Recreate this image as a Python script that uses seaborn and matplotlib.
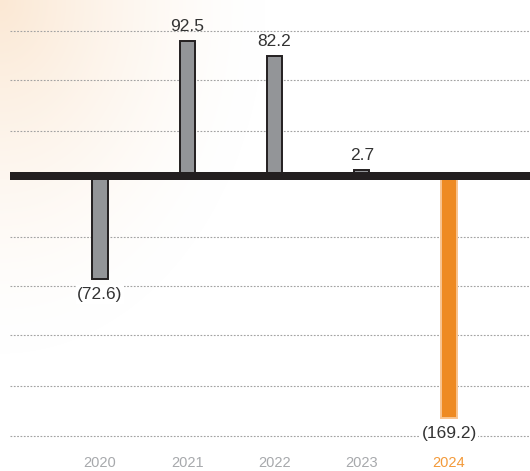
import numpy as np
import pandas as pd
import matplotlib
matplotlib.use("Agg")
import matplotlib.pyplot as plt
import matplotlib.transforms as mtransforms
import seaborn as sns

# ---- data ----
years = ["2020", "2021", "2022", "2023", "2024"]
values = [-72.6, 92.5, 82.2, 2.7, -169.2]
labels = ["(72.6)", "92.5", "82.2", "2.7", "(169.2)"]
grid_levels = [99, 65, 30, -44, -78, -112, -147, -182]

# ---- style ----
fill_colors = ["#939598", "#939598", "#939598", "#939598", "#ee8a22"]
edge_colors = ["#231f20", "#231f20", "#231f20", "#231f20", "#f9c48f"]
year_colors = ["#a7a9ac", "#a7a9ac", "#a7a9ac", "#a7a9ac", "#f39a3a"]

sns.set_theme(style="white")
plt.rcParams["font.family"] = ["Liberation Sans", "DejaVu Sans"]

W, H = 530, 471
fig = plt.figure(figsize=(W / 100, H / 100), dpi=100)

# background gradient (faint peach top-left fading to white)
bg = fig.add_axes([0, 0, 1, 1], zorder=-10)
yy, xx = np.mgrid[0:H, 0:W]
xn = xx / W
yn = yy / H
t = np.clip(1 - np.sqrt((xn / 0.5) ** 2 + (yn / 0.75) ** 2), 0, 1) ** 1.5
peach = np.array([251, 232, 212]) / 255.0
white = np.array([1.0, 1.0, 1.0])
img = white[None, None, :] * (1 - t[..., None]) + peach[None, None, :] * t[..., None]
bg.imshow(img, aspect="auto", extent=[0, 1, 0, 1], origin="upper")
bg.axis("off")

# main axes
left_px = 10
ax = fig.add_axes([left_px / W, 0, (W - left_px) / W, 1])
ax.set_facecolor("none")

df = pd.DataFrame({"year": years, "value": values})
sns.barplot(data=df, x="year", y="value", hue="year", palette=fill_colors,
            width=0.172, legend=False, ax=ax, zorder=3, saturation=1)

for i, cont in enumerate(ax.containers):
    for p in cont:
        p.set_edgecolor(edge_colors[i])
        p.set_linewidth(1.4)

# scale: zero at 174 px from top, 1.44 px per unit
zero_px = 174
ppu = 1.44
ax.set_ylim(-(H - zero_px) / ppu, zero_px / ppu)
cat_px0, cat_step = 100, 87.25
ax.set_xlim((left_px - cat_px0) / cat_step, (W - cat_px0) / cat_step)

# grid lines
ax.set_yticks(grid_levels)
ax.yaxis.grid(True, linestyle=(0, (1.6, 1.4)), color="#a3a3a3", linewidth=0.8, zorder=1)
ax.set_axisbelow(True)
ax.tick_params(left=False, bottom=False, labelleft=False, labelbottom=False)
for s in ax.spines.values():
    s.set_visible(False)
ax.set_xlabel("")
ax.set_ylabel("")

# thick zero line, shifted slightly below zero
off = mtransforms.offset_copy(ax.transData, fig=fig, x=0, y=-2 * 72 / 100, units="points")
ax.plot([-5, 10], [0, 0], color="#231f20", linewidth=8 * 72 / 100, transform=off,
        zorder=5, solid_capstyle="butt")

# value labels
for i, (v, lab) in enumerate(zip(values, labels)):
    if v >= 0:
        ax.annotate(lab, (i, v), xytext=(0, 5), textcoords="offset points",
                    ha="center", va="bottom", fontsize=12.5, color="#333333", zorder=6)
    else:
        ax.annotate(lab, (i, v), xytext=(0, -6), textcoords="offset points",
                    ha="center", va="top", fontsize=12.5, color="#333333", zorder=6,
                    bbox=dict(boxstyle="square,pad=0.1", facecolor="white", edgecolor="none"))

# year labels
xt = ax.get_xaxis_transform()
for i, (yr, c) in enumerate(zip(years, year_colors)):
    ax.text(i, 8 / H, yr, transform=xt, ha="center", va="center",
            fontsize=10.5, color=c)

fig.savefig("out.png", dpi=100)
